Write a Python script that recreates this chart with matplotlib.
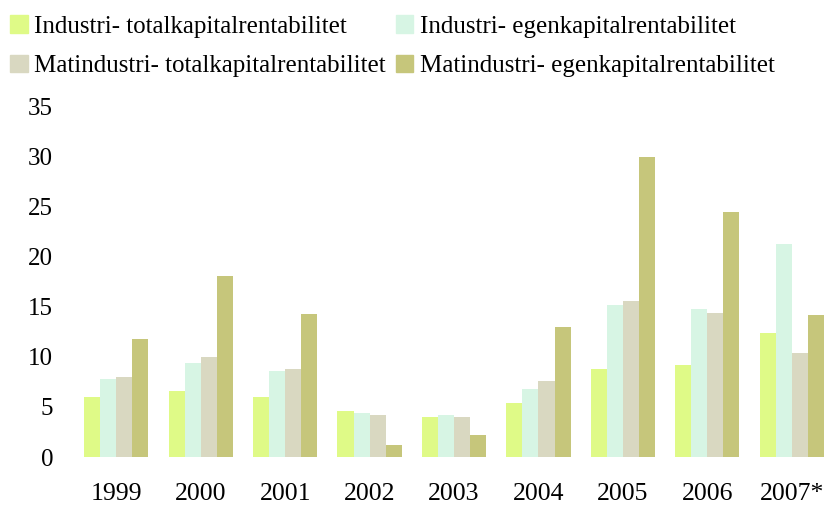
import numpy as np
import matplotlib
matplotlib.use('Agg')
import matplotlib.pyplot as plt
from matplotlib.patches import Patch

######## DATA ########

YEARS = ['1999', '2000', '2001', '2002', '2003', '2004', '2005', '2006', '2007*']
IND_TOTAL = [6.0, 6.6, 6.0, 4.6, 4.0, 5.4, 8.8, 9.2, 12.4]
IND_EGEN = [7.8, 9.4, 8.6, 4.4, 4.2, 6.8, 15.2, 14.8, 21.2]
MAT_TOTAL = [8.0, 10.0, 8.8, 4.2, 4.0, 7.6, 15.6, 14.4, 10.4]
MAT_EGEN = [11.8, 18.0, 14.3, 1.2, 2.2, 13.0, 29.9, 24.4, 14.2]
LABELS = ['Industri- totalkapitalrentabilitet', 'Industri- egenkapitalrentabilitet',
          'Matindustri- totalkapitalrentabilitet', 'Matindustri- egenkapitalrentabilitet']
COLORS = ['#dffa87', '#d7f5e4', '#d9d8c1', '#c6c67b']

plt.rcParams['font.family'] = ['Liberation Serif', 'DejaVu Serif']

W, H = 829, 505
fig = plt.figure(figsize=(W / 100, H / 100), dpi=100)
ax = fig.add_axes([74 / W, (H - 457) / H, (W - 74) / W, (457 - 106) / H])

series = [IND_TOTAL, IND_EGEN, MAT_TOTAL, MAT_EGEN]
x = np.arange(len(YEARS))
bw = 0.19
for i, vals in enumerate(series):
    ax.bar(x + (i - 1.5) * bw, vals, bw, color=COLORS[i], linewidth=0)

ax.set_xlim(-0.5, len(YEARS) - 0.56)
ax.set_ylim(0, 35)
ax.set_yticks(range(0, 36, 5))
ax.set_xticks(x)
ax.set_xticklabels(YEARS)
for s in ax.spines.values():
    s.set_visible(False)
ax.tick_params(axis='y', length=0, pad=15, labelsize=18)
ax.tick_params(axis='x', length=0, pad=19, labelsize=18.5)

# legend is filled row by row in the original
handles = [Patch(color=c, label=l) for c, l in zip(COLORS, LABELS)]
order = [0, 2, 1, 3]
fig.legend(handles=[handles[k] for k in order], ncol=2, loc='upper left',
           bbox_to_anchor=(-0.004, 0.997), frameon=False, fontsize=18,
           handlelength=0.7, handleheight=0.7, handletextpad=0.25,
           columnspacing=0.4, labelspacing=0.68, borderaxespad=0.25,
           borderpad=0.3)

fig.savefig('out.png', dpi=100)
